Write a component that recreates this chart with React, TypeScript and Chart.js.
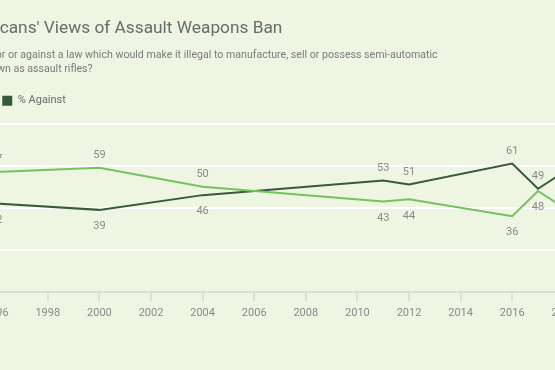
import React, { useEffect, useRef } from "react";
import { Chart, registerables } from "chart.js";

Chart.register(...registerables);

// ---- data ----
const surveyYears = [1996, 2000, 2004, 2011, 2012, 2016, 2017, 2018];
const forValues = [57, 59, 50, 43, 44, 36, 48, 40];
const againstValues = [42, 39, 46, 53, 51, 61, 49, 57];
const seriesNames = ["% For", "% Against"];
const titleText = "Americans' Views of Assault Weapons Ban";
const subtitleLines = [
  "Are you for or against a law which would make it illegal to manufacture, sell or possess semi-automatic",
  "guns known as assault rifles?",
];
const xMin = 1995;
const xMax = 2020;
const xStep = 2;
const yMin = 0;
const yMax = 83.5;
const yStep = 20;

const FONT = "Roboto, 'Open Sans', Arial, sans-serif";
const BG = "#EEF5E2";
const LIGHT = "#74C35F";
const DARK = "#37593C";
const LABEL_GRAY = "#8a8a8a";

const valueLabels = {
  id: "valueLabels",
  afterDatasetsDraw(chart: any) {
    const ctx = chart.ctx;
    ctx.save();
    ctx.font = `11px ${FONT}`;
    ctx.fillStyle = LABEL_GRAY;
    ctx.textAlign = "center";
    ctx.textBaseline = "middle";
    chart.data.datasets.forEach((ds: any, di: number) => {
      const meta = chart.getDatasetMeta(di);
      const other = chart.data.datasets[1 - di];
      meta.data.forEach((pt: any, i: number) => {
        const v = ds.data[i].y;
        const o = other.data[i].y;
        const above = v >= o;
        ctx.fillText(String(v), pt.x, above ? pt.y - 12.5 : pt.y + 16.5);
      });
    });
    ctx.restore();
  },
};

export default function App() {
  const canvasRef = useRef<HTMLCanvasElement | null>(null);

  useEffect(() => {
    if (!canvasRef.current) return;
    const defaultLabels = (Chart.defaults as any).plugins.legend.labels.generateLabels;
    const chart = new Chart(canvasRef.current, {
      type: "line",
      data: {
        datasets: [
          {
            label: seriesNames[0],
            data: surveyYears.map((x, i) => ({ x, y: forValues[i] })),
            borderColor: LIGHT,
            backgroundColor: LIGHT,
            borderWidth: 2,
            pointRadius: 0,
            tension: 0,
          },
          {
            label: seriesNames[1],
            data: surveyYears.map((x, i) => ({ x, y: againstValues[i] })),
            borderColor: DARK,
            backgroundColor: DARK,
            borderWidth: 2,
            pointRadius: 0,
            tension: 0,
          },
        ],
      },
      options: {
        animation: false,
        responsive: true,
        maintainAspectRatio: false,
        layout: { padding: { left: 10, right: 20.6, top: 0, bottom: 44.4 } },
        plugins: {
          title: {
            display: true,
            text: titleText,
            align: "start",
            color: "#6b6b6b",
            font: { family: FONT, size: 17.3, weight: "normal", lineHeight: 1.2 },
            padding: { top: 18, bottom: 0 },
          },
          subtitle: {
            display: true,
            text: subtitleLines,
            align: "start",
            color: "#7b7b7b",
            font: { family: FONT, size: 10.6, weight: "normal", lineHeight: 1.25 },
            padding: { top: 10.3, bottom: 16.6 },
          },
          legend: {
            display: true,
            position: "top",
            align: "start",
            labels: {
              boxWidth: 10,
              boxHeight: 10,
              padding: 3,
              color: "#6b6b6b",
              font: { family: FONT, size: 11 },
              generateLabels: (c: any) =>
                defaultLabels(c).map((l: any) => ({ ...l, lineWidth: 0 })),
            },
          },
          tooltip: { enabled: false },
        },
        scales: {
          x: {
            type: "linear",
            min: xMin,
            max: xMax,
            ticks: {
              stepSize: xStep,
              includeBounds: false,
              autoSkip: false,
              maxRotation: 0,
              padding: 5.7,
              color: LABEL_GRAY,
              font: { family: FONT, size: 11 },
              callback: (v: any) => String(v),
            },
            afterBuildTicks: (scale: any) => {
              scale.ticks = scale.ticks.filter((t: any) => t.value % xStep === 0);
            },
            grid: {
              display: true,
              drawOnChartArea: false,
              drawTicks: true,
              tickLength: 9,
              color: "#dcdcdc",
              lineWidth: 2,
            },
            border: { display: true, color: "#dcdcdc", width: 2 },
          },
          y: {
            type: "linear",
            min: yMin,
            max: yMax,
            ticks: { display: false, stepSize: yStep, includeBounds: false },
            afterFit: (scale: any) => {
              scale.width = 16.4;
            },
            grid: {
              drawTicks: false,
              lineWidth: 2,
              color: (ctx: any) => (ctx.tick && ctx.tick.value === 0 ? "rgba(0,0,0,0)" : "#ffffff"),
            },
            border: { display: false },
          },
        },
      },
      plugins: [valueLabels],
    });
    return () => chart.destroy();
  }, []);

  return (
    <div
      style={{
        position: "fixed",
        left: 0,
        top: 0,
        width: 555,
        height: 370,
        overflow: "hidden",
        background: BG,
      }}
    >
      <div style={{ position: "absolute", left: -56, top: 0, width: 692, height: 370 }}>
        <canvas ref={canvasRef} />
      </div>
    </div>
  );
}
